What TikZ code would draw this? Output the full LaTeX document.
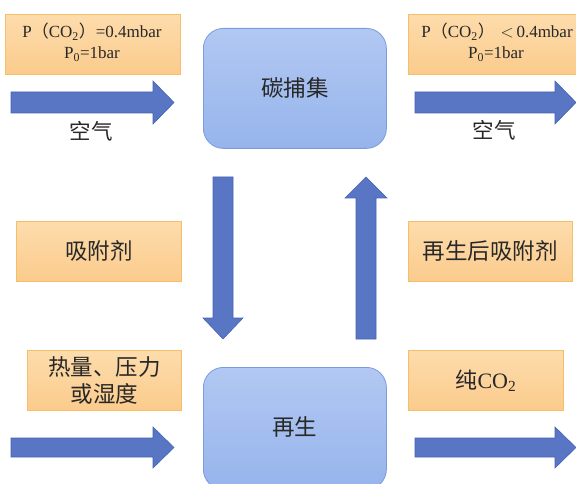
\documentclass[tikz,border=0pt]{standalone}
\usepackage{fontspec}
\setmainfont{Liberation Serif}
\newfontfamily\cjk{Noto Sans CJK SC}
\definecolor{txt}{RGB}{40,40,40}
\definecolor{orfillA}{RGB}{253,220,172}
\definecolor{orfillB}{RGB}{251,203,140}
\definecolor{ordraw}{RGB}{245,190,105}
\definecolor{blA}{RGB}{178,200,242}
\definecolor{blB}{RGB}{150,180,236}
\definecolor{bldraw}{RGB}{120,156,220}
\definecolor{arfill}{RGB}{88,118,196}
\definecolor{ardraw}{RGB}{70,100,180}
\tikzset{
  orbox/.style={draw=ordraw, line width=0.8pt, top color=orfillA, bottom color=orfillB, anchor=north west, inner sep=0pt, text=txt, align=center},
  blbox/.style={draw=bldraw, line width=0.8pt, top color=blA, bottom color=blB, rounded corners=20pt, anchor=north west, inner sep=0pt, text=txt, font=\cjk\fontsize{22.5}{26}\selectfont},
  blkarrow/.style={fill=arfill, draw=ardraw, line width=0.6pt},
  lbl/.style={text=txt, font=\cjk\fontsize{21.5}{24}\selectfont},
  small/.style={font=\fontsize{17}{20}\selectfont},
  big/.style={font=\cjk\fontsize{22.5}{27}\selectfont}
}
\newcommand{\fp}[1]{{\cjk #1}}
\begin{document}
\begin{tikzpicture}[x=1pt,y=-1pt]
\useasboundingbox (0,0) rectangle (576,484);
\clip (0,0) rectangle (576,484);
% top boxes
\node[orbox, minimum width=175pt, minimum height=60pt] (tl) at (5,14) {};
\node[small, text=txt] (tl1) at (92,32) {P\fp{（}CO\textsubscript{2}\fp{）}=0.4mbar};
\node[small, text=txt] (tl2) at (92,54) {P\textsubscript{0}=1bar};
\node[orbox, minimum width=178pt, minimum height=60pt] (tr) at (408,14) {};
\node[small, text=txt] (tr1) at (497,32) {P\fp{（}CO\textsubscript{2}\fp{）}\,\,$<$\,0.4mbar};
\node[small, text=txt] (tr2) at (496,54) {P\textsubscript{0}=1bar};
% middle boxes
\node[orbox, big, minimum width=165pt, minimum height=60pt] (ml) at (16,221) {吸附剂};
\node[orbox, big, minimum width=164pt, minimum height=60pt] (mr) at (408,221) {再生后吸附剂};
% bottom boxes
\node[orbox, big, minimum width=154pt, minimum height=60pt] (bl) at (27,350) {热量、压力\\或湿度};
\node[orbox, minimum width=155pt, minimum height=60pt, font=\fontsize{22}{24}\selectfont] (br) at (408,350) {\fp{纯}CO\textsubscript{2}};
% blue boxes
\node[blbox, minimum width=183pt, minimum height=120pt] (cap) at (203,28) {碳捕集};
\node[blbox, minimum width=183pt, minimum height=122pt] (reg) at (203,367) {};
\node[text=txt, font=\cjk\fontsize{22.5}{26}\selectfont] (regt) at (294.5,427) {再生};
% labels
\node[lbl] (air1) at (91,131) {空气};
\node[lbl] (air2) at (494,130) {空气};
% horizontal arrows
\draw[blkarrow] (11,92) -- (153,92) -- (153,81) -- (174,102.5) -- (153,124) -- (153,113) -- (11,113) -- cycle;
\draw[blkarrow] (415,92) -- (555,92) -- (555,81) -- (576,102.5) -- (555,124) -- (555,113) -- (415,113) -- cycle;
\draw[blkarrow] (11,438) -- (153,438) -- (153,427) -- (174,447.5) -- (153,468) -- (153,457) -- (11,457) -- cycle;
\draw[blkarrow] (415,438) -- (555,438) -- (555,427) -- (576,447.5) -- (555,468) -- (555,457) -- (415,457) -- cycle;
% vertical arrows
\draw[blkarrow] (213,177) -- (233,177) -- (233,318) -- (243,318) -- (223,339) -- (203,318) -- (213,318) -- cycle;
\draw[blkarrow] (356,339) -- (376,339) -- (376,198) -- (387,198) -- (366,177) -- (345,198) -- (356,198) -- cycle;
\end{tikzpicture}
\end{document}
